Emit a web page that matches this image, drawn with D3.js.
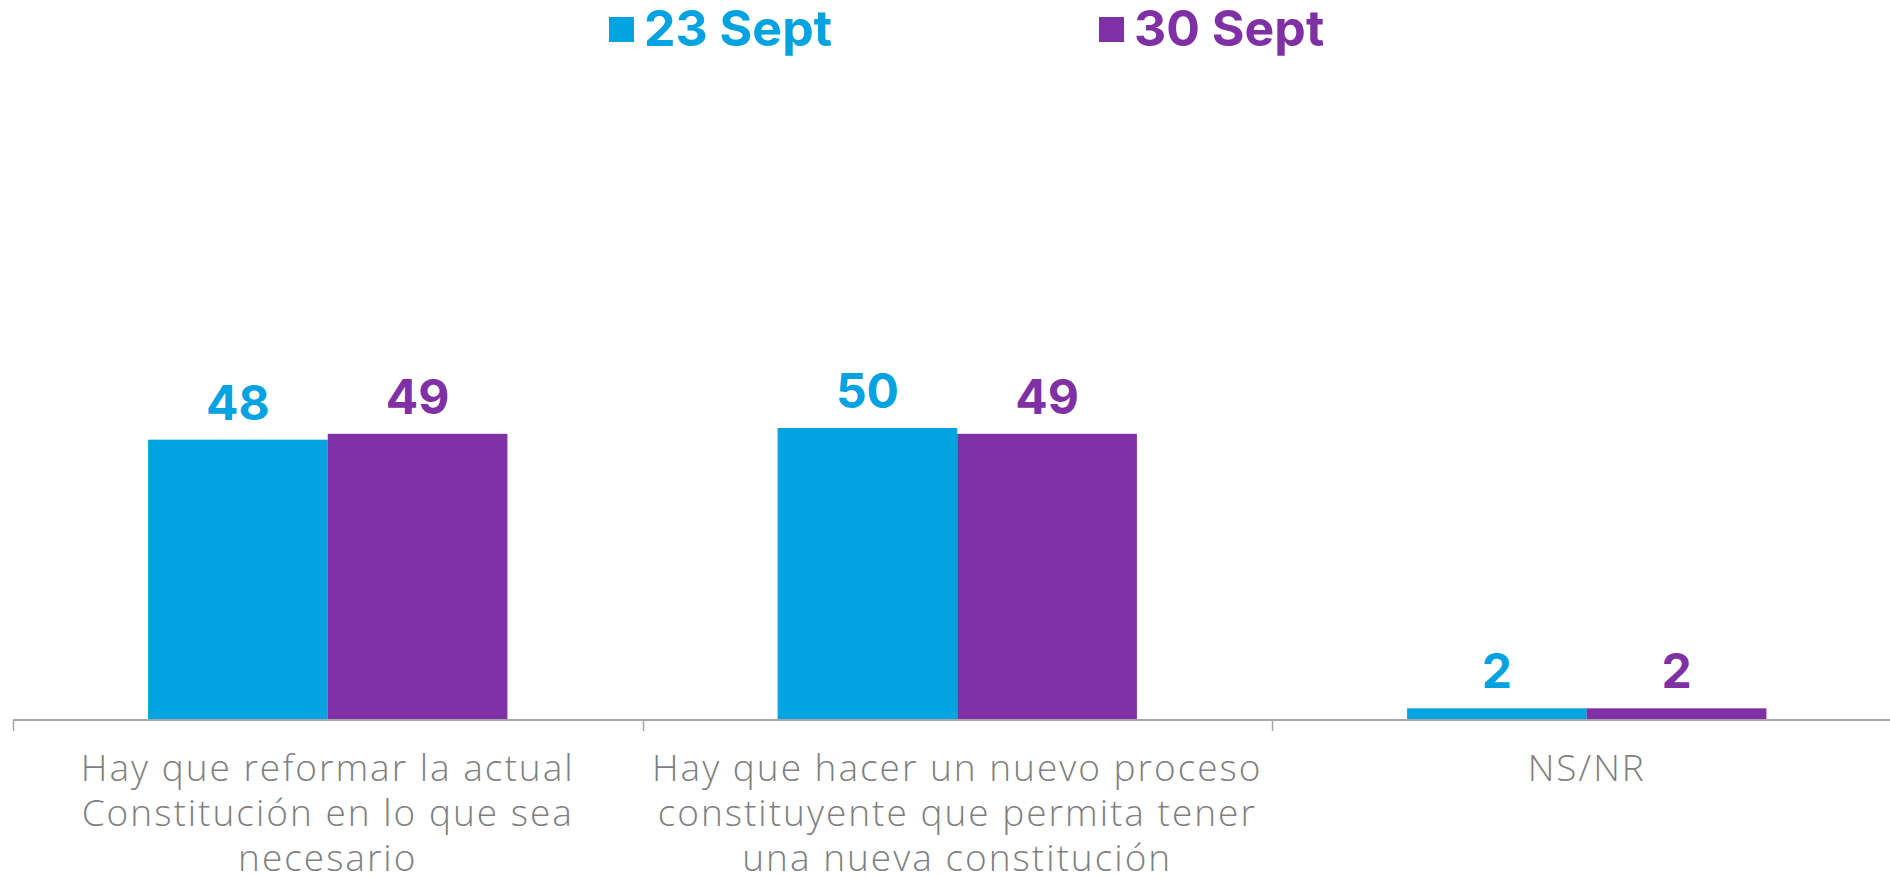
<!DOCTYPE html>
<html><head><meta charset="utf-8">
<script src="https://cdn.jsdelivr.net/npm/d3@7"></script>
<style>html,body{margin:0;padding:0;background:#fff;overflow:hidden}</style>
</head><body><svg id="chart" width="1890" height="877"></svg>
<script>
const categories = [
  ["Hay que reformar la actual", "Constitución en lo que sea", "necesario"],
  ["Hay que hacer un nuevo proceso", "constituyente que permita tener", "una nueva constitución"],
  ["NS/NR"]
];
const categoryKeys = ["reformar", "nuevo", "nsnr"];
const seriesNames = ["23 Sept", "30 Sept"];
const sept23 = [48, 50, 2];
const sept30 = [49, 49, 2];
const seriesValues = [sept23, sept30];
const colors = ["#03a2e0", "#7f30a5"];

const svg = d3.select("#chart");
const axisY = 720;
const x0 = d3.scaleBand().domain(categoryKeys).range([13, 1901.5]).paddingInner(0).paddingOuter(0);
const x1 = d3.scaleBand().domain(seriesNames).range([0, x0.bandwidth()]).paddingInner(0).paddingOuter(0.752);
const y = d3.scaleLinear().domain([0, 50]).range([axisY, 428]);

// bars
categoryKeys.forEach((k, i) => {
  const g = svg.append("g").attr("transform", `translate(${x0(k)},0)`);
  seriesNames.forEach((s, j) => {
    const v = seriesValues[j][i];
    g.append("rect")
      .attr("x", x1(s)).attr("width", x1.bandwidth())
      .attr("y", y(v)).attr("height", axisY - y(v))
      .attr("fill", colors[j]);
    g.append("text")
      .attr("x", x1(s) + x1.bandwidth() / 2)
      .attr("y", y(v) - 20)
      .attr("text-anchor", "middle")
      .attr("font-family", "Inter, 'Open Sans', sans-serif")
      .attr("font-weight", 700)
      .attr("font-size", 48)
      .attr("fill", colors[j])
      .text(v);
  });
});

// axis
const axisColor = "#a6a6a6";
svg.append("line").attr("x1", 13).attr("x2", 1890).attr("y1", axisY).attr("y2", axisY)
  .attr("stroke", axisColor).attr("stroke-width", 2);
categoryKeys.forEach(k => {
  svg.append("line").attr("x1", Math.round(x0(k)) + 0.5).attr("x2", Math.round(x0(k)) + 0.5)
    .attr("y1", axisY).attr("y2", axisY + 11).attr("stroke", axisColor).attr("stroke-width", 1.5);
});

// category labels
categoryKeys.forEach((k, i) => {
  const t = svg.append("text")
    .attr("x", x0(k) + x0.bandwidth() / 2)
    .attr("text-anchor", "middle")
    .attr("font-family", "'Open Sans', sans-serif")
    .attr("font-weight", 300)
    .attr("font-size", 37)
    .attr("letter-spacing", 2)
    .attr("fill", "#7f7f7f");
  categories[i].forEach((line, li) => {
    t.append("tspan").attr("x", x0(k) + x0.bandwidth() / 2).attr("y", 781 + li * 45).text(line);
  });
});

// legend
const legend = [{x: 609, tx: 644}, {x: 1099, tx: 1134}];
seriesNames.forEach((s, j) => {
  svg.append("rect").attr("x", legend[j].x).attr("y", 17).attr("width", 25).attr("height", 25).attr("fill", colors[j]);
  svg.append("text").attr("x", legend[j].tx).attr("y", 46)
    .attr("font-family", "Inter, 'Open Sans', sans-serif")
    .attr("font-weight", 700).attr("font-size", 50)
    .attr("fill", colors[j]).text(s);
});
</script></body></html>
